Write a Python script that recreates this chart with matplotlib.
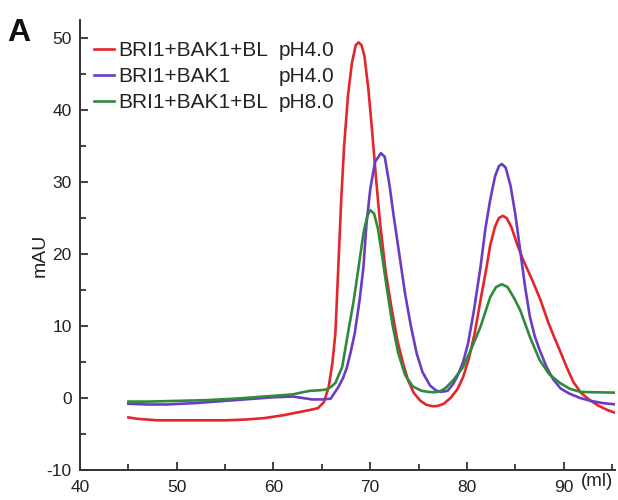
import matplotlib
matplotlib.use("Agg")
import matplotlib.pyplot as plt
from matplotlib.ticker import MultipleLocator

plt.rcParams['font.family'] = ['Liberation Sans', 'DejaVu Sans']
plt.rcParams['axes.unicode_minus'] = False

# ---- data ----
red_x = [45, 46, 48, 50, 52, 55, 57, 59, 61, 62.5, 64.0, 64.6, 65.2, 65.7, 66.1, 66.4, 66.7, 67.0,
         67.3, 67.7, 68.1, 68.5, 68.8, 69.1, 69.4, 69.8, 70.2, 70.6, 71.0, 71.6, 72.2, 72.8, 73.4,
         73.9, 74.5, 75.2, 75.8, 76.5, 77.0, 77.6, 78.3, 79.0, 79.6, 80.2, 80.8, 81.4, 82.0, 82.4,
         82.9, 83.3, 83.7, 84.1, 84.6, 85.2, 85.8, 86.2, 86.8, 87.6, 88.4, 89.0, 89.6, 90.3, 91.0,
         91.8, 92.7, 93.5, 94.4, 95.4]
red_y = [-2.7, -2.9, -3.1, -3.1, -3.1, -3.1, -3.0, -2.8, -2.4, -2.0, -1.6, -1.4, -0.6, 1.5, 5, 9, 18.2, 27.5,
         35, 42, 46.5, 49.0, 49.4, 49.0, 47.5, 43, 37, 30.5, 24.5, 17.5, 12.5, 8, 4.8,
         2.5, 0.7, -0.4, -0.95, -1.15, -1.1, -0.8, 0.0, 1.2, 2.9, 5.5, 9.0, 13.6, 18.0, 21.2,
         23.8, 25.0, 25.3, 25.0, 23.7, 21.3, 19.2, 18.0, 16.2, 13.6, 10.5, 8.5, 6.6, 4.3, 2.2,
         0.7, -0.3, -1.0, -1.6, -2.1]

purple_x = [45, 47, 49, 52, 55, 58, 60, 62, 63, 64, 65, 65.9, 66.7, 67.2, 67.6, 68.0, 68.4, 68.9,
            69.3, 69.6, 70.0, 70.5, 71.1, 71.5, 72.0, 72.4, 73.0, 73.6, 74.2, 74.8, 75.4, 76.2,
            76.8, 77.3, 78.0, 78.6, 79.1, 79.6, 80.1, 80.7, 81.4, 81.9, 82.4, 82.9,
            83.3, 83.6, 84.0, 84.5, 85.0, 85.5, 86.0, 86.5, 87.0, 87.5, 88.2, 88.9, 89.7, 90.6,
            91.7, 92.8, 94.0, 95.4]
purple_y = [-0.8, -0.9, -0.9, -0.7, -0.4, -0.1, 0.1, 0.2, 0.0, -0.2, -0.2, -0.1, 1.5, 2.8, 4.3, 6.5, 9.0, 13.6,
            18.2, 24, 29, 32.8, 34.0, 33.5, 29.5, 25.5, 20, 14.5, 10, 6.2, 3.6, 1.7,
            1.05, 0.85, 1.0, 2.0, 3.3, 5.0, 7.5, 12, 18.2, 23.5, 27.5, 30.8,
            32.2, 32.5, 32.0, 29.5, 25.5, 20.5, 15.5, 11.3, 8.6, 6.7, 4.4, 2.6, 1.3, 0.6,
            0.0, -0.4, -0.7, -0.9]

green_x = [45, 47, 50, 53, 56, 58, 60, 62, 63, 63.8, 64.5, 65.0, 65.5, 66.0, 66.4, 67.1, 67.7, 68.3,
           68.8, 69.3, 69.7, 70.0, 70.4, 70.8, 71.2, 71.7, 72.3, 72.9, 73.6, 74.4, 75.3, 76.0,
           76.6, 77.2, 77.8, 78.6, 79.6, 80.5, 81.4, 82.4, 83.0, 83.6, 84.2, 84.9, 85.5, 86.5,
           87.5, 88.5, 89.6, 90.6, 91.7, 93.0, 95.4]
green_y = [-0.5, -0.5, -0.4, -0.3, -0.1, 0.1, 0.3, 0.5, 0.8, 1.0, 1.05, 1.1, 1.2, 1.6, 2.1, 4.3, 9.0, 13.6,
           18.2, 22.9, 25.3, 26.1, 25.6, 23.5, 20, 15.4, 10.2, 6.2, 3.2, 1.6, 1.0, 0.85,
           0.8, 0.9, 1.4, 2.5, 4.3, 7.0, 9.9, 14.0, 15.4, 15.8, 15.4, 13.8, 12.2, 8.5,
           5.3, 3.3, 2.1, 1.3, 0.85, 0.8, 0.75]

series_names = ["BRI1+BAK1+BL", "BRI1+BAK1", "BRI1+BAK1+BL"]
series_ph = ["pH4.0", "pH4.0", "pH8.0"]
series_colors = ["#e4262b", "#6a3cc4", "#2e8a3c"]

x_ticks = [40, 50, 60, 70, 80, 90]
y_ticks = [-10, 0, 10, 20, 30, 40, 50]

# ---- figure ----
fig = plt.figure(figsize=(6.18, 5.0), dpi=100)
ax = fig.add_axes([80 / 618, 30 / 500, 535 / 618, 450 / 500])

lines = []
for xs, ys, name, c in zip([red_x, purple_x, green_x], [red_y, purple_y, green_y],
                           series_names, series_colors):
    ln, = ax.plot(xs, ys, color=c, lw=1.9, label=name, solid_joinstyle='round')
    lines.append(ln)

ax.set_xlim(40, 95.3)
ax.set_ylim(-10, 52.5)
ax.set_xticks(x_ticks)
ax.set_yticks(y_ticks)
ax.xaxis.set_minor_locator(MultipleLocator(5))
ax.yaxis.set_minor_locator(MultipleLocator(5))

for s in ['top', 'right']:
    ax.spines[s].set_visible(False)
for s in ['left', 'bottom']:
    ax.spines[s].set_linewidth(1.4)
    ax.spines[s].set_color('#333333')

ax.tick_params(axis='both', which='major', direction='in', length=6, width=1.3,
               colors='#333333', labelcolor='#222222', labelsize=12.5)
ax.tick_params(axis='both', which='minor', direction='in', length=4, width=1.3, colors='#333333')
ax.tick_params(axis='x', pad=7)
ax.tick_params(axis='y', pad=6)

ax.set_ylabel('mAU', fontsize=14, color='#222222')
ax.yaxis.set_label_coords((49 - 80) / 535, (470 - 255) / 450)
ax.text(597 / 618, 18 / 500, '(ml)', transform=fig.transFigure, fontsize=13.5,
        ha='center', va='center', color='#222222')
fig.text(19 / 618, 467 / 500, 'A', fontsize=23, fontweight='bold', ha='center', va='center',
         color='#111111')

leg = ax.legend(handles=lines, loc='upper left', bbox_to_anchor=(94 / 618, 1 - 41 / 500),
                bbox_transform=fig.transFigure, frameon=False, fontsize=15,
                handlelength=0.95, handletextpad=0.2, labelspacing=0.34, borderpad=0,
                borderaxespad=0)
for t in leg.get_texts():
    t.set_color('#222222')

fig.canvas.draw()
inv = fig.transFigure.inverted()
x_ph = ax.transData.transform((60.5, 0))[0]
for t, ph in zip(leg.get_texts(), series_ph):
    bb = t.get_window_extent()
    yc = (bb.y0 + bb.y1) / 2
    fx, fy = inv.transform((x_ph, yc))
    fig.text(fx, fy, ph, fontsize=15, ha='left', va='center', color='#222222')

fig.savefig('out.png', dpi=100)
